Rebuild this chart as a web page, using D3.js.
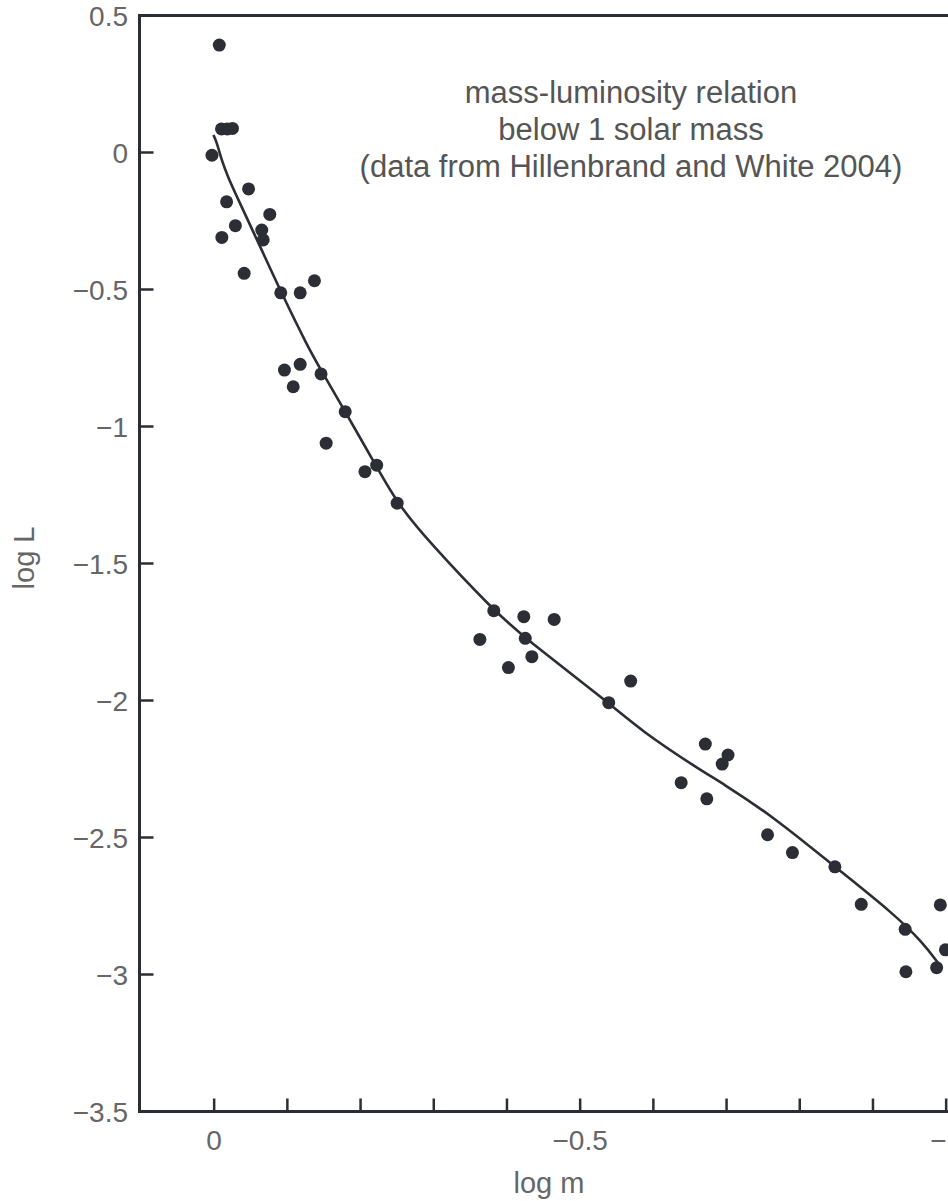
<!DOCTYPE html>
<html>
<head>
<meta charset="utf-8">
<script src="https://cdn.jsdelivr.net/npm/d3@7"></script>
<style>
  html, body { margin: 0; padding: 0; background: #fff; }
  svg { display: block; font-family: "Liberation Sans", Arial, sans-serif; }
</style>
</head>
<body>
<svg id="chart"></svg>
<script>
// star data (log m, log L)
const logM = [-0.007, -0.010, -0.018, -0.025, 0.003, -0.047, -0.017, -0.076, -0.029, -0.0105,
  -0.065, -0.067, -0.041, -0.091, -0.1175, -0.137, -0.096, -0.1175, -0.146, -0.108,
  -0.179, -0.153, -0.206, -0.222, -0.25, -0.382, -0.423, -0.4645, -0.363, -0.425,
  -0.434, -0.402, -0.569, -0.539, -0.671, -0.702, -0.694, -0.638, -0.673, -0.756,
  -0.790, -0.848, -0.884, -0.992, -0.944, -0.999, -0.987, -0.945];
const logL = [0.392, 0.086, 0.086, 0.088, -0.01, -0.133, -0.18, -0.226, -0.267, -0.31,
  -0.283, -0.319, -0.441, -0.512, -0.512, -0.468, -0.794, -0.773, -0.808, -0.855,
  -0.946, -1.061, -1.165, -1.141, -1.28, -1.672, -1.694, -1.704, -1.777, -1.773,
  -1.84, -1.88, -1.929, -2.008, -2.159, -2.199, -2.232, -2.30, -2.359, -2.49,
  -2.555, -2.607, -2.744, -2.746, -2.835, -2.91, -2.975, -2.99];

// fitted relation, sampled along the drawn curve
const fitLogM = [0.001, -0.004, -0.010, -0.0195, -0.031, -0.063, -0.090, -0.129, -0.146, -0.179,
  -0.222, -0.25, -0.293, -0.382, -0.425, -0.539, -0.582, -0.664, -0.691,
  -0.764, -0.848, -0.928, -0.969, -0.989];
const fitLogL = [0.064, 0.034, -0.027, -0.094, -0.161, -0.344, -0.502, -0.715, -0.794, -0.946,
  -1.147, -1.28, -1.420, -1.672, -1.773, -2.008, -2.108, -2.254, -2.296,
  -2.424, -2.607, -2.777, -2.886, -2.958];

const xTicks = [0, -0.1, -0.2, -0.3, -0.4, -0.5, -0.6, -0.7, -0.8, -0.9, -1.0];
const xTickLabels = [0, -0.5, -1];
const yTicks = [0.5, 0, -0.5, -1, -1.5, -2, -2.5, -3, -3.5];

const noteLines = [
  "mass-luminosity relation",
  "below 1 solar mass",
  "(data from Hillenbrand and White 2004)"
];
const xTitle = "log m";
const yTitle = "log L";

const width = 948, height = 1201;
const ink = "#2b2e35", grey = "#666";

const svg = d3.select("#chart")
  .attr("width", width)
  .attr("height", height)
  .attr("viewBox", [0, 0, width, height]);

const xScale = d3.scaleLinear()
  .domain([0.102, -1.1])
  .range([139.5, 139.5 + 1.202 * 732]);

const yScale = d3.scaleLinear()
  .domain([0.5, -3.5])
  .range([15.5, 1111.5]);

const fmt = d => d === 0 ? "0" : (d < 0 ? "\u2212" : "") + Math.abs(d);

// frame (right edge falls outside the page, as in the scan)
const [x0, x1] = xScale.range();
const [y0, y1] = yScale.range();
svg.append("rect")
  .attr("x", x0).attr("y", y0)
  .attr("width", x1 - x0).attr("height", y1 - y0)
  .attr("fill", "none")
  .attr("stroke", ink)
  .attr("stroke-width", 3);

// inward ticks
svg.append("g")
  .selectAll("line")
  .data(xTicks)
  .join("line")
  .attr("x1", d => xScale(d)).attr("x2", d => xScale(d))
  .attr("y1", y1).attr("y2", y1 - 13)
  .attr("stroke", ink)
  .attr("stroke-width", 2.5);

svg.append("g")
  .selectAll("line")
  .data(yTicks)
  .join("line")
  .attr("x1", x0).attr("x2", x0 + 14)
  .attr("y1", d => yScale(d)).attr("y2", d => yScale(d))
  .attr("stroke", ink)
  .attr("stroke-width", 2.5);

// tick labels
svg.append("g")
  .selectAll("text")
  .data(xTickLabels)
  .join("text")
  .attr("x", d => xScale(d))
  .attr("y", 1150)
  .attr("text-anchor", "middle")
  .attr("font-size", 28)
  .attr("fill", grey)
  .text(fmt);

svg.append("g")
  .selectAll("text")
  .data(yTicks)
  .join("text")
  .attr("x", 128)
  .attr("y", d => yScale(d))
  .attr("dy", "0.36em")
  .attr("text-anchor", "end")
  .attr("font-size", 28)
  .attr("fill", grey)
  .text(fmt);

// axis titles
svg.append("text")
  .attr("x", 549)
  .attr("y", 1193)
  .attr("text-anchor", "middle")
  .attr("font-size", 29)
  .attr("fill", grey)
  .text(xTitle);

svg.append("text")
  .attr("transform", "translate(34,558) rotate(-90)")
  .attr("text-anchor", "middle")
  .attr("font-size", 29)
  .attr("fill", grey)
  .text(yTitle);

// annotation
svg.append("g")
  .selectAll("text")
  .data(noteLines)
  .join("text")
  .attr("x", 631)
  .attr("y", (d, i) => 103 + i * 37)
  .attr("text-anchor", "middle")
  .attr("font-size", 31)
  .attr("fill", "#555")
  .text(d => d);

// fitted curve
const line = d3.line()
  .x(i => xScale(fitLogM[i]))
  .y(i => yScale(fitLogL[i]))
  .curve(d3.curveBasis);

svg.append("path")
  .attr("d", line(d3.range(fitLogM.length)))
  .attr("fill", "none")
  .attr("stroke", ink)
  .attr("stroke-width", 2.6);

// stars
svg.append("g")
  .selectAll("circle")
  .data(d3.range(logM.length))
  .join("circle")
  .attr("cx", i => xScale(logM[i]))
  .attr("cy", i => yScale(logL[i]))
  .attr("r", 6.5)
  .attr("fill", ink);
</script>
</body>
</html>
